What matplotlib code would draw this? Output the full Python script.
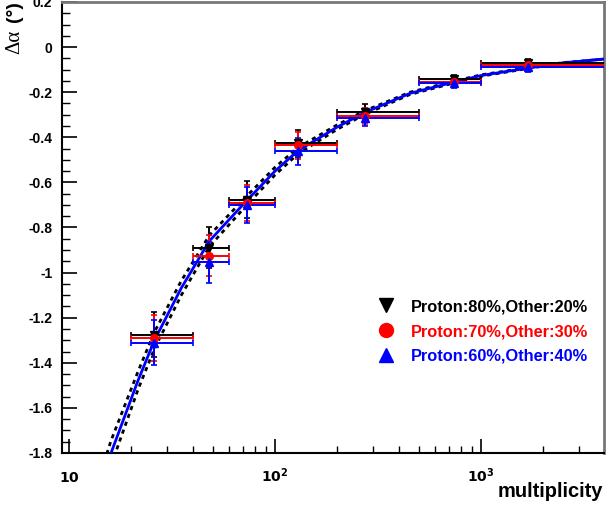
import numpy as np
import matplotlib
matplotlib.use('Agg')
import matplotlib.pyplot as plt
from matplotlib.lines import Line2D
from matplotlib.ticker import FixedLocator, NullFormatter

plt.rcParams['font.family'] = ['Liberation Sans', 'DejaVu Sans']

# multiplicity bins
x_mid = [26, 48, 73, 129, 273, 740, 1690]
x_lo = [20, 40, 60, 100, 200, 500, 1000]
x_hi = [40, 60, 100, 200, 500, 1000, 5000]

# delta alpha for the three mixtures
y_80 = [-1.275, -0.89, -0.676, -0.427, -0.29, -0.142, -0.071]
y_70 = [-1.29, -0.925, -0.69, -0.436, -0.305, -0.155, -0.08]
y_60 = [-1.31, -0.955, -0.70, -0.462, -0.315, -0.16, -0.089]
y_err = [0.10, 0.09, 0.08, 0.06, 0.037, 0.02, 0.02]

# fit curve, plus the dashed band
fit_x = [14, 16, 21.6, 26, 35, 48, 73, 100, 129, 200, 273, 452, 740, 1000, 1690, 2500, 3950]
fit_y = [-1.97, -1.80, -1.48, -1.30, -1.07, -0.86, -0.68, -0.55, -0.46, -0.355,
         -0.29, -0.205, -0.155, -0.126, -0.093, -0.07, -0.053]
fit_up = [-1.91, -1.745, -1.44, -1.263, -1.038, -0.835, -0.66, -0.533, -0.446, -0.345,
          -0.282, -0.2, -0.151, -0.123, -0.091, -0.069, -0.053]
fit_dn = [-2.03, -1.855, -1.52, -1.337, -1.102, -0.885, -0.70, -0.567, -0.474, -0.365,
          -0.298, -0.21, -0.159, -0.129, -0.095, -0.071, -0.053]

labels = ['Proton:80%,Other:20%', 'Proton:70%,Other:30%', 'Proton:60%,Other:40%']
colors = ['black', 'red', 'blue']
markers = ['v', 'o', '^']

y_ticks = [0.2, 0, -0.2, -0.4, -0.6, -0.8, -1, -1.2, -1.4, -1.6, -1.8]
y_ticklabels = ['0.2', '0', '-0.2', '-0.4', '-0.6', '-0.8', '-1', '-1.2', '-1.4', '-1.6', '-1.8']
x_ticks = [10, 100, 1000]
x_ticklabels = [r'$\mathbf{10}$', r'$\mathbf{10^{2}}$', r'$\mathbf{10^{3}}$']

fig = plt.figure(figsize=(6.06, 5.05), dpi=100)
ax = fig.add_axes([62/606, 52/505, 542/606, 451/505])

ax.plot(fit_x, fit_up, color='black', lw=2, ls=(0, (1.5, 1.5)), zorder=2)
ax.plot(fit_x, fit_dn, color='black', lw=2, ls=(0, (1.5, 1.5)), zorder=2)
ax.plot(fit_x, fit_y, color='blue', lw=2, zorder=3)

x_mid_a = np.array(x_mid, dtype=float)
xerr = [x_mid_a - np.array(x_lo), np.array(x_hi) - x_mid_a]
for yv, c, m in zip([y_80, y_70, y_60], colors, markers):
    ax.errorbar(x_mid, yv, xerr=xerr, yerr=y_err, fmt=m, color=c, ms=5.5,
                elinewidth=1.4, capsize=2, capthick=1.2, zorder=4)

ax.set_xscale('log')
ax.set_xlim(9.25, 3950)
ax.set_ylim(-1.8, 0.2)

ax.yaxis.set_major_locator(FixedLocator(y_ticks))
ax.set_yticklabels(y_ticklabels, fontweight='bold', fontsize=10)
ax.yaxis.set_minor_locator(FixedLocator(np.arange(-1.8, 0.2001, 0.05)))
ax.tick_params(axis='y', which='major', direction='in', length=11, width=1.2, pad=7)
ax.tick_params(axis='y', which='minor', direction='in', length=5.5, width=1.0)

ax.xaxis.set_major_locator(FixedLocator(x_ticks))
ax.xaxis.set_minor_locator(FixedLocator([k * 10**d for d in (1, 2, 3) for k in range(2, 10)]))
ax.xaxis.set_major_formatter(NullFormatter())
ax.xaxis.set_minor_formatter(NullFormatter())
ax.tick_params(axis='x', which='major', direction='in', length=10, width=1.2)
ax.tick_params(axis='x', which='minor', direction='in', length=5, width=1.0)
for xt, lab in zip(x_ticks, x_ticklabels):
    ax.text(xt, -0.065, lab, transform=ax.get_xaxis_transform(), ha='center',
            va='baseline', fontsize=10, fontweight='bold')

for side in ('left', 'bottom'):
    ax.spines[side].set_linewidth(1.5)
for side in ('top', 'right'):
    ax.spines[side].set_linewidth(2)
    ax.spines[side].set_color('#777777')

fig.text(603/606, 1 - 497/505, 'multiplicity', ha='right', va='baseline',
         fontsize=14.5, fontweight='bold')
fig.text(15/606, 1 - 54/505, 'Δα', rotation=90, ha='center', va='bottom',
         fontsize=15, family=['Liberation Serif', 'DejaVu Serif'])
fig.text(15/606, 1 - 22/505, '(°)', rotation=90, ha='center', va='bottom',
         fontsize=14, fontweight='bold')

handles = [Line2D([], [], ls='none', marker=m, color=c, ms=10) for m, c in zip(markers, colors)]
leg = ax.legend(handles, labels, loc='upper left', bbox_to_anchor=(368/606, 1 - 291/505),
                bbox_transform=fig.transFigure, frameon=False, handlelength=1.2,
                handletextpad=0.9, labelspacing=0.6, borderpad=0,
                prop={'weight': 'bold', 'size': 11.8})
for t, c in zip(leg.get_texts(), colors):
    t.set_color(c)

fig.savefig('out.png', dpi=100)
